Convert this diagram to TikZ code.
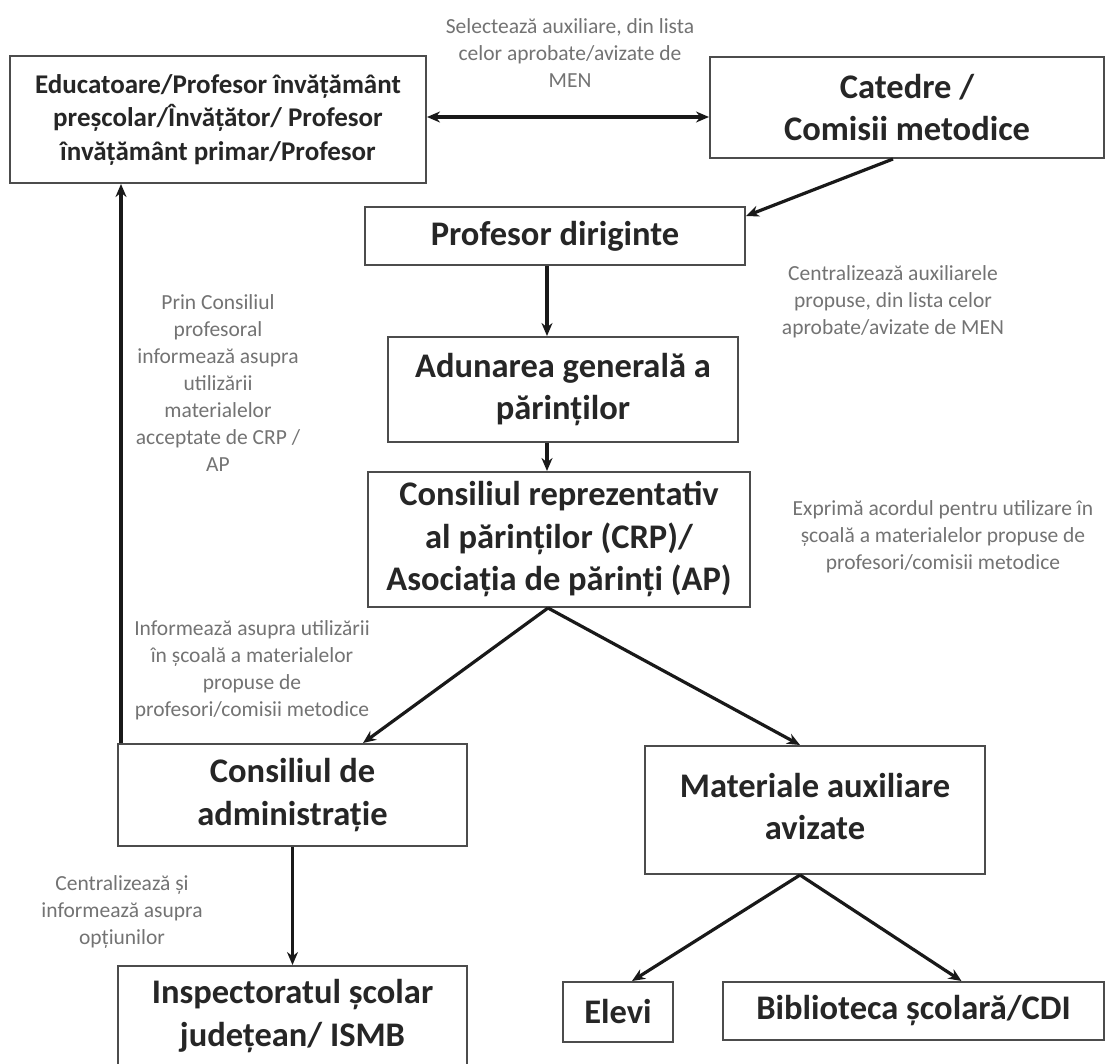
\documentclass[tikz,border=0pt]{standalone}
\usepackage{fontspec}
\setmainfont{Carlito}
\usetikzlibrary{arrows.meta}
\begin{document}
\begin{tikzpicture}[x=1pt,y=-1pt,
  box/.style={draw=black!70, line width=2pt, align=center, inner sep=0pt,
    font=\bfseries\fontsize{34.5}{42.5}\selectfont, text=black!85},
  lbl/.style={align=center, inner sep=0pt, font=\fontsize{21.5}{27}\selectfont, text=black!55},
  arr/.style={draw=black!90, line width=3.2pt, -{Stealth[length=13pt,width=11pt]}},
  darr/.style={draw=black!90, line width=3.2pt, {Stealth[length=13pt,width=11pt]}-{Stealth[length=13pt,width=11pt]}}]
\useasboundingbox[fill=white] (0,0) rectangle (1105,1063);

% boxes
\node[box, minimum width=416pt, minimum height=127pt, font=\bfseries\fontsize{27}{33.5}\selectfont] (edu) at (218,119.5)
  {Educatoare/Profesor învățământ\\preșcolar/Învățător/ Profesor\\învățământ primar/Profesor};
\node[box, minimum width=394pt, minimum height=101pt] (cat) at (907,107.5) {Catedre /\\Comisii metodice};
\node[box, minimum width=380pt, minimum height=58pt] (dirig) at (555,236) {Profesor diriginte};
\node[box, minimum width=350pt, minimum height=105pt] (adun) at (563,389.5) {Adunarea generală a\\părinților};
\node[box, minimum width=382pt, minimum height=135pt] (crp) at (559,539.5) {Consiliul reprezentativ\\al părinților (CRP)/\\Asociația de părinți (AP)};
\node[box, minimum width=349pt, minimum height=102pt] (cda) at (292.5,795) {Consiliul de\\administrație};
\node[box, minimum width=349pt, minimum height=100pt] (insp) at (292.5,1016) {Inspectoratul școlar\\județean/ ISMB};
\node[box, minimum width=340pt, minimum height=128pt] (mat) at (815,810) {\raisebox{7pt}{\begin{tabular}{@{}c@{}}Materiale auxiliare\\avizate\end{tabular}}};
\node[box, minimum width=110pt, minimum height=60pt] (elevi) at (618,1012) {Elevi};
\node[box, minimum width=381pt, minimum height=58pt] (bib) at (913.5,1011) {Biblioteca școlară/CDI};

% labels
\node[lbl] (l1) at (570,53) {Selectează auxiliare, din lista\\celor aprobate/avizate de\\MEN};
\node[lbl] (l2) at (893,302) {Centralizează auxiliarele\\propuse, din lista celor\\aprobate/avizate de MEN};
\node[lbl] (l3) at (218,383) {Prin Consiliul\\profesoral\\informează asupra\\utilizării\\materialelor\\acceptate de CRP /\\AP};
\node[lbl] (l4) at (943,537) {Exprimă acordul pentru utilizare în\\școală a materialelor propuse de\\profesori/comisii metodice};
\node[lbl] (l5) at (252,670) {Informează asupra utilizării\\în școală a materialelor\\propuse de\\profesori/comisii metodice};
\node[lbl] (l6) at (122,912) {Centralizează și\\informează asupra\\opțiunilor};

% connectors
\draw[darr] ([yshift=2.5pt]edu.east) -- ([yshift=2.5pt]edu.east -| cat.west);
\draw[arr] ([xshift=-14pt]cat.south) -- ([yshift=-10pt]dirig.north east);
\draw[arr] ([xshift=-8pt]dirig.south) -- ([xshift=-8pt]dirig.south |- adun.north);
\draw[arr] ([xshift=-16pt]adun.south) -- ([xshift=-16pt]adun.south |- crp.north);
\draw[arr] ([xshift=-11pt]crp.south) -- ([xshift=70.5pt]cda.north);
\draw[arr] ([xshift=-11pt]crp.south) -- ([xshift=-15pt]mat.north);
\draw[arr, line width=4.2pt] ([xshift=4pt]cda.north west) -- ([xshift=4pt]cda.north west |- edu.south);
\draw[arr] (cda.south) -- (insp.north);
\draw[arr] ([xshift=-15pt]mat.south) -- ([xshift=14pt]elevi.north);
\draw[arr] ([xshift=-15pt]mat.south) -- ([xshift=48pt]bib.north);
\end{tikzpicture}
\end{document}
